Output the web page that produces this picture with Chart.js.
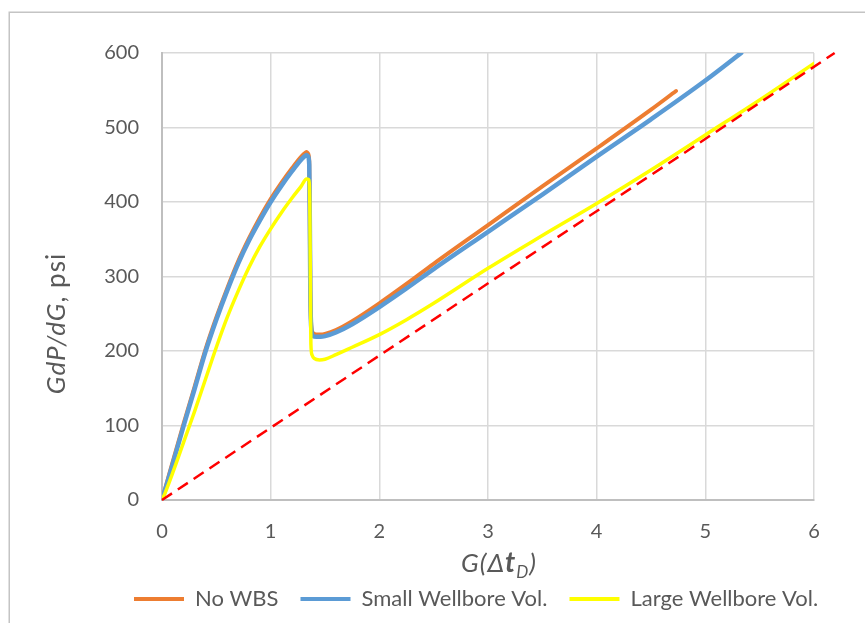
<!DOCTYPE html>
<html>
<head>
<meta charset="utf-8">
<script src="https://cdn.jsdelivr.net/npm/chart.js@4/dist/chart.umd.min.js"></script>
<style>
  html, body { margin: 0; padding: 0; background: #ffffff; }
  canvas { display: block; }
</style>
</head>
<body>
<canvas id="chart" width="865" height="623"></canvas>
<script>
// G-function derivative curves (G(Δt_D) vs G·dP/dG, psi)
const seriesNames = ['No WBS', 'Small Wellbore Vol.', 'Large Wellbore Vol.'];

const noWbsG = [0, 0.05, 0.1, 0.2, 0.3, 0.4, 0.5, 0.6, 0.7, 0.8, 0.9, 1.0, 1.1, 1.2, 1.27, 1.31, 1.33, 1.345, 1.355, 1.36, 1.365, 1.375, 1.39, 1.42, 1.46, 1.5, 1.6, 1.75, 2.0, 2.25, 2.5, 3.0, 3.5, 4.0, 4.5, 4.73];
const noWbsP = [0, 26, 52, 103, 152, 202, 245, 284, 320, 351, 379, 404, 426, 446, 459, 465, 467, 465, 455, 380, 280, 232, 224, 222, 222, 223, 228, 240, 264, 290, 317, 369, 421, 472, 524, 549];

const smallG = [0, 0.05, 0.1, 0.2, 0.3, 0.4, 0.5, 0.6, 0.7, 0.8, 0.9, 1.0, 1.1, 1.2, 1.27, 1.31, 1.33, 1.345, 1.355, 1.36, 1.365, 1.375, 1.39, 1.42, 1.46, 1.5, 1.6, 1.75, 2.0, 2.25, 2.5, 3.0, 3.5, 4.0, 4.5, 5.0, 5.33];
const smallP = [0, 24, 49, 100, 149, 199, 242, 281, 317, 348, 375, 400, 422, 442, 455, 461, 463, 461, 450, 380, 280, 228, 220, 219, 219, 220, 225, 236, 259, 284, 310, 360, 410, 461, 511, 563, 600];

const largeG = [0, 0.03, 0.1, 0.2, 0.3, 0.4, 0.5, 0.6, 0.7, 0.8, 0.9, 1.0, 1.1, 1.2, 1.28, 1.33, 1.35, 1.36, 1.365, 1.37, 1.38, 1.4, 1.45, 1.5, 1.6, 1.75, 2.0, 2.25, 2.5, 3.0, 3.5, 4.0, 4.5, 5.0, 5.5, 6.0];
const largeP = [0, 10, 37, 78, 119, 162, 205, 245, 280, 312, 340, 364, 386, 406, 421, 431, 430, 400, 300, 210, 195, 190, 188, 189, 195, 205, 222, 242, 264, 311, 355, 398, 443, 490, 537, 586];

// straight-line reference through the origin (dashed)
const refG = [0, 6.19];
const refP = [0, 600];

const xTicks = [0, 1, 2, 3, 4, 5, 6];
const yTicks = [0, 100, 200, 300, 400, 500, 600];

const toPoints = (xs, ys) => xs.map((x, i) => ({ x: x, y: ys[i] }));

const TEXT = '#595959';
const FONT = 'Lato, "Open Sans", sans-serif';
const LEGEND_START = 134;

const decor = {
  id: 'decor',
  beforeDraw(chart) {
    const ctx = chart.ctx;
    // place the legend row so that its first swatch starts at LEGEND_START
    const lg = chart.legend;
    if (lg && lg.legendHitBoxes && lg.legendHitBoxes.length && !chart.$legendPlaced) {
      const dx = LEGEND_START - lg.legendHitBoxes[0].left;
      lg.left += dx;
      lg.right += dx;
      chart.$legendPlaced = true;
    }
    ctx.save();
    ctx.fillStyle = '#ffffff';
    ctx.fillRect(0, 0, chart.width, chart.height);
    ctx.strokeStyle = '#c4c4c4';
    ctx.lineWidth = 1.5;
    ctx.strokeRect(9.25, 12.25, chart.width + 40, chart.height + 40);
    ctx.restore();
  },
  afterDraw(chart) {
    const ctx = chart.ctx;
    const a = chart.chartArea;
    ctx.save();
    ctx.fillStyle = TEXT;
    ctx.textBaseline = 'middle';

    // y-axis title: italic "GdP/dG" followed by upright ", psi"
    ctx.letterSpacing = '1px';
    const yParts = [
      { t: 'GdP/dG', f: 'italic 26px ' + FONT },
      { t: ', psi', f: '26px ' + FONT }
    ];
    let total = 0;
    yParts.forEach(p => { ctx.font = p.f; p.w = ctx.measureText(p.t).width; total += p.w; });
    ctx.translate(57, (a.top + a.bottom) / 2 + 47);
    ctx.rotate(-Math.PI / 2);
    ctx.textAlign = 'left';
    let cx = -total / 2;
    yParts.forEach(p => { ctx.font = p.f; ctx.fillText(p.t, cx, 0); cx += p.w; });
    ctx.setTransform(1, 0, 0, 1, 0, 0);

    // x-axis title: G(Δt_D)
    ctx.textBaseline = 'alphabetic';
    const xParts = [
      { t: 'G(Δ', f: 'italic 26px ' + FONT, dy: 0 },
      { t: 't', f: 'italic bold 28px ' + FONT, dy: 0 },
      { t: 'D', f: 'italic 17px ' + FONT, dy: 6 },
      { t: ')', f: 'italic 26px ' + FONT, dy: 0 }
    ];
    total = 0;
    xParts.forEach(p => { ctx.font = p.f; p.w = ctx.measureText(p.t).width; total += p.w; });
    let xx = (a.left + a.right) / 2 + 11 - total / 2;
    const base = a.bottom + 72;
    xParts.forEach(p => { ctx.font = p.f; ctx.fillText(p.t, xx, base + p.dy); xx += p.w; });
    ctx.restore();
  }
};

const lineStyle = {
  showLine: true, pointRadius: 0, cubicInterpolationMode: 'monotone',
  borderCapStyle: 'round', borderJoinStyle: 'round'
};

new Chart(document.getElementById('chart'), {
  type: 'scatter',
  data: {
    datasets: [
      Object.assign({
        label: seriesNames[0],
        data: toPoints(noWbsG, noWbsP),
        borderColor: '#ED7D31', backgroundColor: '#ED7D31',
        borderWidth: 4, order: 4
      }, lineStyle),
      Object.assign({
        label: seriesNames[1],
        data: toPoints(smallG, smallP),
        borderColor: '#5B9BD5', backgroundColor: '#5B9BD5',
        borderWidth: 4.5, order: 3
      }, lineStyle),
      Object.assign({
        label: seriesNames[2],
        data: toPoints(largeG, largeP),
        borderColor: '#FFFF00', backgroundColor: '#FFFF00',
        borderWidth: 3.5, order: 2
      }, lineStyle),
      {
        label: 'reference',
        data: toPoints(refG, refP),
        borderColor: '#FF0000', backgroundColor: '#FF0000',
        borderWidth: 2.5, borderDash: [12, 7], showLine: true, pointRadius: 0,
        clip: false, order: 1
      }
    ]
  },
  options: {
    responsive: false,
    animation: false,
    devicePixelRatio: 1,
    layout: { padding: { left: 40, right: 51, top: 53, bottom: 3 } },
    plugins: {
      title: { display: false },
      tooltip: { enabled: false },
      legend: {
        display: true,
        position: 'bottom',
        align: 'center',
        labels: {
          font: { family: FONT, size: 22 },
          color: TEXT,
          boxWidth: 50,
          boxHeight: 4,
          padding: 22,
          sort: (a, b) => a.datasetIndex - b.datasetIndex,
          generateLabels(chart) {
            const items = Chart.defaults.plugins.legend.labels.generateLabels(chart);
            return items
              .filter(it => it.datasetIndex !== 3)
              .map(it => Object.assign(it, { lineWidth: 0, fillStyle: it.strokeStyle, lineDash: [] }));
          }
        }
      }
    },
    scales: {
      x: {
        type: 'linear',
        min: 0, max: 6,
        afterBuildTicks: s => { s.ticks = xTicks.map(v => ({ value: v })); },
        afterFit: s => { s.height = 66; },
        ticks: { font: { family: FONT, size: 20 }, color: TEXT, padding: 20 },
        grid: { color: '#d9d9d9', lineWidth: 1.5, drawTicks: false },
        border: { color: '#bfbfbf', width: 2 }
      },
      y: {
        type: 'linear',
        min: 0, max: 600,
        afterBuildTicks: s => { s.ticks = yTicks.map(v => ({ value: v })); },
        afterFit: s => { s.width = 122; },
        ticks: { font: { family: FONT, size: 20 }, color: TEXT, padding: 23 },
        grid: { color: '#d9d9d9', lineWidth: 1.5, drawTicks: false },
        border: { color: '#bfbfbf', width: 2 }
      }
    }
  },
  plugins: [decor]
});
</script>
</body>
</html>
